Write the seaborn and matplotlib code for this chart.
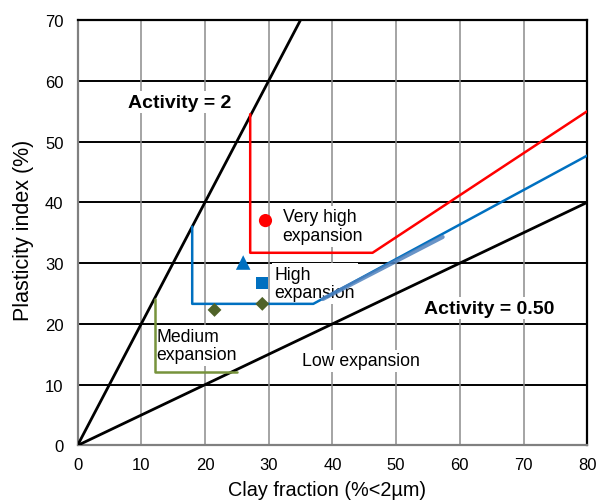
import matplotlib
matplotlib.use("Agg")
import matplotlib.pyplot as plt
import seaborn as sns
import pandas as pd
from matplotlib.ticker import MultipleLocator

# ---- data ----
activity2_x = [0, 35]
activity2_y = [0, 70]
activity05_x = [0, 80]
activity05_y = [0, 40]
very_high_x = [27.1, 27.1, 46.3, 80]
very_high_y = [54.5, 31.7, 31.7, 55.0]
high_x = [18, 18, 37, 80]
high_y = [36, 23.3, 23.3, 47.7]
high_overlay_x = [38.5, 57.3]
high_overlay_y = [24.1, 34.3]
medium_x = [12.1, 12.1, 25.0]
medium_y = [24.1, 12.1, 12.1]

circle_pt = ([29.5], [37.0])
triangle_pt = ([26.0], [30.1])
square_pt = ([29.0], [26.7])
diamond_x = [21.5, 29.0]
diamond_y = [22.3, 23.3]

x_ticks = [0, 10, 20, 30, 40, 50, 60, 70, 80]
y_ticks = [0, 10, 20, 30, 40, 50, 60, 70]

sns.set_theme(style="white")
plt.rcParams['font.family'] = ['Liberation Sans', 'DejaVu Sans']
plt.rcParams['text.color'] = 'black'
plt.rcParams['axes.labelcolor'] = 'black'

fig = plt.figure(figsize=(5.98, 5.02), dpi=100)
ax = fig.add_axes([0.1296, 0.1106, 0.8525, 0.8476])

# grid
for yv in y_ticks[1:]:
    ax.axhline(yv, color='black', lw=1.4, zorder=0.5)
for xv in x_ticks[1:-1]:
    ax.axvline(xv, color='#8c8c8c', lw=1.1, zorder=0.5)

def line(xs, ys, color, lw, z=3, alpha=1.0):
    df = pd.DataFrame({'x': xs, 'y': ys})
    sns.lineplot(data=df, x='x', y='y', sort=False, estimator=None, color=color,
                 lw=lw, ax=ax, zorder=z, alpha=alpha)

line(activity2_x, activity2_y, 'black', 2.0)
line(activity05_x, activity05_y, 'black', 2.0)
line(very_high_x, very_high_y, '#ff0000', 1.8)
line(high_x, high_y, '#0070c0', 1.8)
line(high_overlay_x, high_overlay_y, '#4f81bd', 3.0, z=3.5, alpha=0.85)
line(medium_x, medium_y, '#77933c', 1.8)

sns.scatterplot(x=circle_pt[0], y=circle_pt[1], marker='o', s=90, color='#ff0000',
                edgecolor='none', ax=ax, zorder=4)
sns.scatterplot(x=triangle_pt[0], y=triangle_pt[1], marker='^', s=110, color='#0070c0',
                edgecolor='none', ax=ax, zorder=4)
sns.scatterplot(x=square_pt[0], y=square_pt[1], marker='s', s=70, color='#0070c0',
                edgecolor='none', ax=ax, zorder=4)
sns.scatterplot(x=diamond_x, y=diamond_y, marker='D', s=50, color='#4f6228',
                edgecolor='none', ax=ax, zorder=4)

box = dict(facecolor='white', edgecolor='none', pad=2)
ax.text(16.1, 56.5, 'Activity = 2', fontsize=14, fontweight='bold', ha='center',
        va='center', bbox=box, zorder=2)
ax.text(64.6, 22.6, 'Activity = 0.50', fontsize=14, fontweight='bold', ha='center',
        va='center', bbox=box, zorder=2)
ax.text(32.2, 36.1, 'Very high\nexpansion', fontsize=12.7, ha='left', va='center',
        bbox=box, zorder=2, linespacing=1.1)
ax.text(30.9, 26.7, 'High\nexpansion', fontsize=12.7, ha='left', va='center',
        bbox=box, zorder=2, linespacing=1.1)
ax.text(12.4, 16.4, 'Medium\nexpansion', fontsize=12.7, ha='left', va='center',
        bbox=box, zorder=2, linespacing=1.1)
ax.text(35.2, 13.9, 'Low expansion', fontsize=12.7, ha='left', va='center',
        bbox=box, zorder=2)

ax.set_xlim(0, 80)
ax.set_ylim(0, 70)
ax.set_xticks(x_ticks)
ax.set_yticks(y_ticks)
ax.xaxis.set_minor_locator(MultipleLocator(2))
ax.yaxis.set_minor_locator(MultipleLocator(2))
ax.tick_params(which='both', direction='in', colors='#808080', labelcolor='black',
               labelsize=12)
ax.tick_params(which='major', length=5, width=1)
ax.tick_params(which='minor', length=4, width=1)
ax.tick_params(axis='x', pad=8)
ax.tick_params(axis='y', pad=10)

for s in ['left', 'bottom']:
    ax.spines[s].set_color('#808080')
    ax.spines[s].set_linewidth(1.6)
for s in ['top', 'right']:
    ax.spines[s].set_color('black')
    ax.spines[s].set_linewidth(1.6)

ax.set_xlabel('Clay fraction (%<2µm)', fontsize=14.3)
ax.set_ylabel('Plasticity index (%)', fontsize=15.5)
ax.xaxis.set_label_coords(0.49, -0.08)
ax.yaxis.set_label_coords(-0.085, 0.509)

fig.savefig('out.png', dpi=100)
